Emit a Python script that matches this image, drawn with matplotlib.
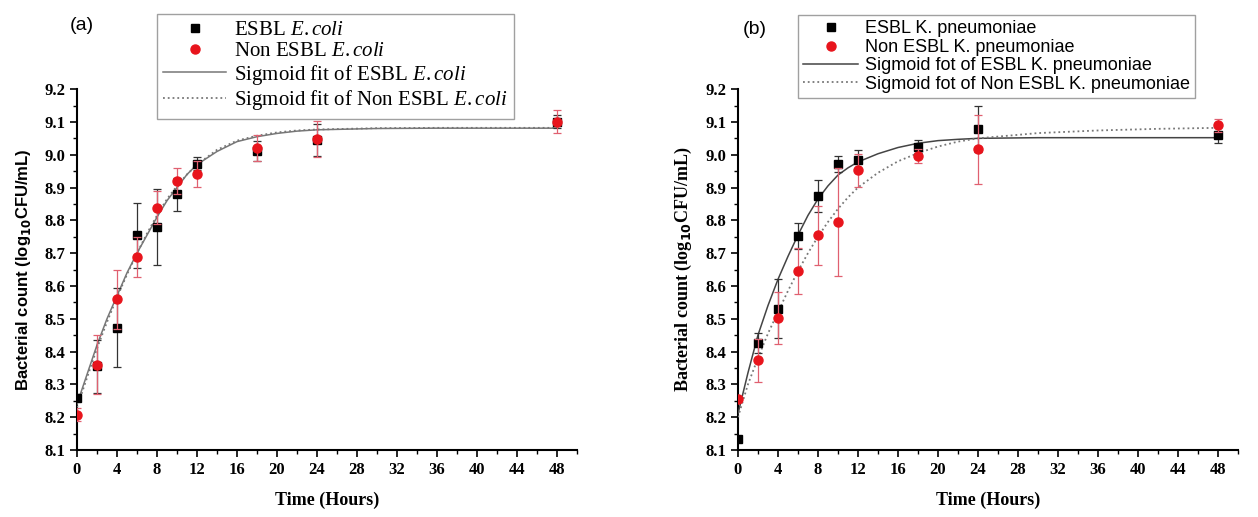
import numpy as np
import matplotlib
matplotlib.use('Agg')
import matplotlib.pyplot as plt
from matplotlib.ticker import MultipleLocator

plt.rcParams['mathtext.default'] = 'bf'

# ---- dati ----
tempo = [0, 2, 4, 6, 8, 10, 12, 18, 24, 48]

# (a) E. coli
esbl_ec = [8.26, 8.355, 8.473, 8.754, 8.78, 8.88, 8.972, 9.012, 9.045, 9.10]
esbl_ec_err = [0.01, 0.08, 0.12, 0.10, 0.115, 0.05, 0.02, 0.03, 0.05, 0.02]
non_ec = [8.208, 8.36, 8.559, 8.688, 8.838, 8.92, 8.942, 9.02, 9.048, 9.10]
non_ec_err = [0.02, 0.09, 0.09, 0.06, 0.05, 0.04, 0.04, 0.04, 0.055, 0.035]

# (b) K. pneumoniae
esbl_kp = [8.134, 8.426, 8.531, 8.753, 8.874, 8.971, 8.984, 9.025, 9.079, 9.06]
esbl_kp_err = [0.01, 0.03, 0.09, 0.04, 0.05, 0.025, 0.03, 0.02, 0.07, 0.025]
non_kp = [8.256, 8.373, 8.502, 8.645, 8.755, 8.794, 8.952, 8.996, 9.017, 9.09]
non_kp_err = [0.01, 0.065, 0.08, 0.07, 0.09, 0.165, 0.05, 0.02, 0.105, 0.02]

# curve sigmoidi (punti letti lungo le curve)
fit_t = [0, 1, 2, 3, 4, 5, 6, 7, 8, 9, 10, 11, 12, 14, 16, 18, 20, 22, 24, 30, 36, 42, 48]
fit_esbl_ec = [8.24, 8.33, 8.42, 8.50, 8.57, 8.64, 8.70, 8.755, 8.81, 8.86, 8.90, 8.94, 8.97,
               9.01, 9.04, 9.055, 9.065, 9.072, 9.076, 9.08, 9.081, 9.081, 9.081]
fit_non_ec = [8.23, 8.32, 8.41, 8.49, 8.565, 8.635, 8.70, 8.76, 8.815, 8.865, 8.905, 8.94, 8.97,
              9.015, 9.043, 9.058, 9.068, 9.074, 9.077, 9.081, 9.082, 9.082, 9.082]
fit_esbl_kp = [8.21, 8.335, 8.45, 8.54, 8.62, 8.69, 8.755, 8.815, 8.865, 8.905, 8.938, 8.96, 8.978,
               9.003, 9.022, 9.035, 9.043, 9.047, 9.05, 9.052, 9.052, 9.052, 9.052]
fit_non_kp = [8.20, 8.30, 8.38, 8.455, 8.52, 8.585, 8.645, 8.70, 8.75, 8.795, 8.835, 8.87, 8.90,
              8.945, 8.98, 9.005, 9.025, 9.04, 9.05, 9.066, 9.074, 9.079, 9.082]

x_ticks = list(range(0, 49, 4))
y_ticks = [8.1, 8.2, 8.3, 8.4, 8.5, 8.6, 8.7, 8.8, 8.9, 9.0, 9.1, 9.2]

fig = plt.figure(figsize=(12.58, 5.17), dpi=100)
ax_a = fig.add_axes([0.0612, 0.1296, 0.3975, 0.698])
ax_b = fig.add_axes([0.5866, 0.1296, 0.3975, 0.698])


def disegna(ax, y1, e1, y2, e2, f1, f2, solid_col):
    eb1 = ax.errorbar(tempo, y1, yerr=e1, fmt='s', color='black', ms=6, ecolor='#333333',
                      elinewidth=0.9, capsize=3, capthick=0.9, zorder=4)
    eb2 = ax.errorbar(tempo, y2, yerr=e2, fmt='o', color='#e8141c', ms=6.5, ecolor='#e06070',
                      elinewidth=0.9, capsize=3, capthick=0.9, zorder=5)
    l1, = ax.plot(fit_t, f1, '-', color=solid_col, lw=1.1, zorder=3)
    l2, = ax.plot(fit_t, f2, ':', color='#777777', lw=1.3, zorder=3)

    ax.set_xlim(0, 50)
    ax.set_ylim(8.1, 9.2)
    ax.set_xticks(x_ticks)
    ax.set_yticks(y_ticks)
    ax.xaxis.set_minor_locator(MultipleLocator(2))
    ax.yaxis.set_minor_locator(MultipleLocator(0.05))
    ax.tick_params(which='major', direction='out', length=5, width=1.2)
    ax.tick_params(which='minor', direction='out', length=3, width=1.0)
    for s in ['top', 'right']:
        ax.spines[s].set_visible(False)
    for s in ['left', 'bottom']:
        ax.spines[s].set_linewidth(1.5)
    ax.set_yticklabels([f'{v:.1f}' for v in y_ticks])
    for t in ax.get_xticklabels() + ax.get_yticklabels():
        t.set_fontfamily('Liberation Serif')
        t.set_fontweight('bold')
        t.set_fontsize(12)
    ax.set_xlabel('Time (Hours)', fontfamily='Liberation Serif', fontweight='bold',
                  fontsize=13, labelpad=10)
    # solo i marker nella legenda
    return [eb1.lines[0], eb2.lines[0], l1, l2]


h_a = disegna(ax_a, esbl_ec, esbl_ec_err, non_ec, non_ec_err, fit_esbl_ec, fit_non_ec, '#777777')
h_b = disegna(ax_b, esbl_kp, esbl_kp_err, non_kp, non_kp_err, fit_esbl_kp, fit_non_kp, '#444444')

lab_a = ['ESBL $\\it{E. coli}$', 'Non ESBL $\\it{E. coli}$',
         'Sigmoid fit of ESBL $\\it{E. coli}$', 'Sigmoid fit of Non ESBL $\\it{E. coli}$']
lab_b = ['ESBL K. pneumoniae', 'Non ESBL K. pneumoniae',
         'Sigmoid fot of ESBL K. pneumoniae', 'Sigmoid fot of Non ESBL K. pneumoniae']

ax_a.set_ylabel('Bacterial count (log$_{10}$CFU/mL)', fontfamily='Liberation Sans',
                fontweight='bold', fontsize=12, labelpad=8)
ax_b.set_ylabel('Bacterial count (log$_{10}$CFU/mL)', fontfamily='Liberation Serif',
                fontweight='bold', fontsize=13, labelpad=8)

plt.rcParams['mathtext.fontset'] = 'custom'
plt.rcParams['mathtext.it'] = 'Liberation Serif:italic'
plt.rcParams['mathtext.rm'] = 'Liberation Serif'


def legenda(handles, labels, anchor, family, size):
    leg = fig.legend(handles, labels, loc='upper left', bbox_to_anchor=anchor,
                     prop={'family': family, 'size': size}, frameon=True, fancybox=False,
                     edgecolor='#888888', handlelength=3.0, handletextpad=0.4,
                     labelspacing=0.08, borderpad=0.3, borderaxespad=0)
    leg.get_frame().set_linewidth(1.0)
    return leg


legenda(h_a, lab_a, (157 / 1258, 1 - 14 / 517), 'Liberation Serif', 15)
legenda(h_b, lab_b, (798 / 1258, 1 - 15 / 517), 'Liberation Sans', 13)

fig.text(0.065, 0.95, '(a)', fontsize=14, fontfamily='Liberation Sans', ha='center', va='center')
fig.text(0.60, 0.943, '(b)', fontsize=14, fontfamily='Liberation Sans', ha='center', va='center')

plt.savefig('out.png', dpi=100)
